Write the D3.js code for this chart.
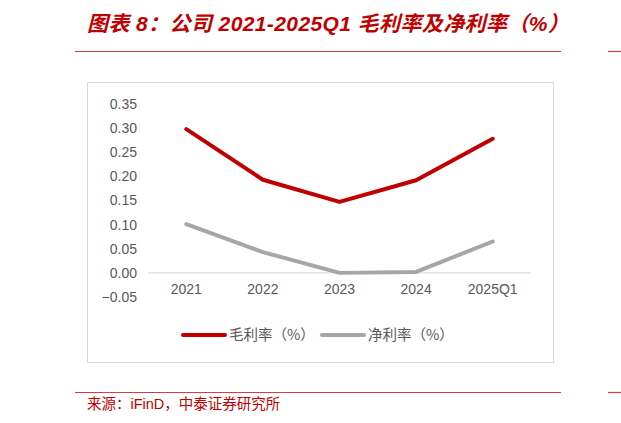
<!DOCTYPE html>
<html>
<head>
<meta charset="utf-8">
<script src="https://cdn.jsdelivr.net/npm/d3@7"></script>
<style>
  body { margin: 0; background: #fff; }
  svg { display: block; }
</style>
</head>
<body>
<script>
// chart data
const categories = ['2021', '2022', '2023', '2024', '2025Q1']
const grossMargin = [0.298, 0.193, 0.147, 0.192, 0.278]
const netMargin = [0.101, 0.043, 0.0, 0.002, 0.065]
const yTicks = [-0.05, 0, 0.05, 0.10, 0.15, 0.20, 0.25, 0.30, 0.35]
const seriesNames = ['毛利率（%）', '净利率（%）']

const red = '#C00000'
const grey = '#A6A6A6'
const cjk = '"Liberation Sans", "Noto Sans CJK SC", sans-serif'

const svg = d3.select('body')
    .append('svg')
    .attr('width', 621)
    .attr('height', 423)

// title
svg.append('text')
    .attr('x', 87)
    .attr('y', 31)
    .attr('fill', red)
    .attr('font-family', cjk)
    .attr('font-size', 21)
    .attr('letter-spacing', 0.4)
    .attr('font-weight', 'bold')
    .attr('font-style', 'italic')
    .text('图表 8：公司 2021-2025Q1 毛利率及净利率（%）')

// rules above and below the chart
const rules = [[75, 561, 51.5], [608, 621, 51.5], [75, 561, 392.5], [608, 621, 392.5]]
rules.forEach(function(r) {
    svg.append('line')
        .attr('x1', r[0]).attr('x2', r[1]).attr('y1', r[2]).attr('y2', r[2])
        .attr('stroke', '#D04040').attr('stroke-width', 1.2)
})

// chart frame
svg.append('rect')
    .attr('x', 87.5).attr('y', 82.5)
    .attr('width', 466).attr('height', 280)
    .attr('fill', 'none')
    .attr('stroke', '#D9D9D9')
    .attr('stroke-width', 1)

// scales
const x = d3.scaleBand()
    .domain(categories)
    .range([148, 531])

const y = d3.scaleLinear()
    .domain([-0.05, 0.35])
    .range([297, 104])

// y axis labels
const yAxis = d3.axisLeft(y)
    .tickValues(yTicks)
    .tickFormat(d3.format('.2f'))
    .tickSize(0)
    .tickPadding(0)

const yg = svg.append('g')
    .attr('transform', 'translate(137,0)')
    .call(yAxis)
yg.select('.domain').remove()
yg.selectAll('text')
    .attr('fill', '#595959')
    .attr('font-family', 'Arial, "Liberation Sans", sans-serif')
    .attr('font-size', 14)

// zero line
svg.append('line')
    .attr('x1', x.range()[0]).attr('x2', x.range()[1])
    .attr('y1', y(0)).attr('y2', y(0))
    .attr('stroke', '#D9D9D9')
    .attr('stroke-width', 1)

// x labels
const xAxis = d3.axisBottom(x).tickSize(0).tickPadding(0)
const xg = svg.append('g')
    .attr('transform', 'translate(0,284)')
    .call(xAxis)
xg.select('.domain').remove()
xg.selectAll('text')
    .attr('fill', '#595959')
    .attr('font-family', 'Arial, "Liberation Sans", sans-serif')
    .attr('font-size', 14)

// lines
const line = d3.line()
    .x((d, i) => x(categories[i]) + x.bandwidth() / 2)
    .y(d => y(d))

svg.append('path')
    .datum(netMargin)
    .attr('d', line)
    .attr('fill', 'none')
    .attr('stroke', grey)
    .attr('stroke-width', 4)
    .attr('stroke-linejoin', 'round')
    .attr('stroke-linecap', 'round')

svg.append('path')
    .datum(grossMargin)
    .attr('d', line)
    .attr('fill', 'none')
    .attr('stroke', red)
    .attr('stroke-width', 4)
    .attr('stroke-linejoin', 'round')
    .attr('stroke-linecap', 'round')

// legend
const legend = svg.append('g')
const legendItems = [
    { name: seriesNames[0], color: red, x: 183 },
    { name: seriesNames[1], color: grey, x: 322 }
]
legendItems.forEach(function(it) {
    legend.append('line')
        .attr('x1', it.x).attr('x2', it.x + 42)
        .attr('y1', 335).attr('y2', 335)
        .attr('stroke', it.color)
        .attr('stroke-width', 4)
        .attr('stroke-linecap', 'round')
    legend.append('text')
        .attr('x', it.x + 46)
        .attr('y', 340)
        .attr('fill', '#595959')
        .attr('font-family', '"Noto Sans CJK SC", sans-serif')
        .attr('font-size', 14.5)
        .text(it.name)
})

// source
svg.append('text')
    .attr('x', 87)
    .attr('y', 409)
    .attr('fill', red)
    .attr('font-family', cjk)
    .attr('font-size', 14.5)
    .text('来源：iFinD，中泰证券研究所')
</script>
</body>
</html>
